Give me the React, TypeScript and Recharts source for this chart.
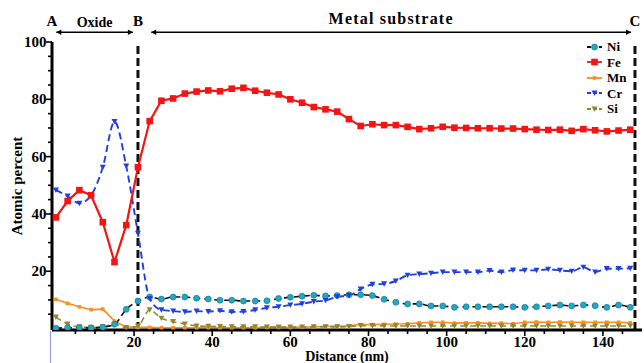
import React from 'react';
import { LineChart, Line, XAxis, YAxis, Legend, ReferenceLine } from 'recharts';

// ---------- data ----------
const distance = [
  0, 3, 6, 9, 12, 15, 18, 21, 24, 27, 30, 33, 36, 39, 42, 45, 48, 51, 54, 57,
  60, 63, 66, 69, 72, 75, 78, 81, 84, 87, 90, 93, 96, 99, 102, 105, 108, 111, 114, 117,
  120, 123, 126, 129, 132, 135, 138, 141, 144, 147,
];
const niValues = [
  0.1, 0.3, 0.3, 0.2, 0.5, 1.5, 6.7, 9.6, 11.0, 10.3,
  11.0, 11.0, 10.6, 10.3, 9.9, 9.9, 9.6, 9.6, 9.7, 10.5,
  10.9, 11.3, 11.6, 11.4, 11.5, 11.8, 11.8, 11.5, 10.2, 9.2,
  8.6, 8.6, 7.9, 7.9, 7.4, 7.6, 7.6, 7.6, 7.6, 7.6,
  7.4, 7.6, 7.9, 8.2, 7.9, 8.2, 8.0, 7.4, 8.2, 7.4,
];
const feValues = [
  38.8, 44.5, 48.3, 46.5, 37.1, 23.2, 36.1, 56.3, 72.4, 79.5,
  80.3, 82.0, 82.7, 83.1, 82.8, 83.7, 84.0, 83.0, 82.3, 81.7,
  80.0, 78.8, 77.3, 76.5, 75.7, 73.1, 70.7, 71.3, 71.0, 71.0,
  70.4, 69.6, 69.9, 70.4, 70.1, 70.0, 69.9, 69.9, 69.8, 69.8,
  69.6, 69.4, 69.3, 69.4, 69.0, 69.6, 69.2, 68.8, 69.1, 69.4,
];
const mnValues = [
  10.2, 8.8, 7.6, 6.6, 6.8, 2.6, 0.6, 0.4, 0.4, 0.3,
  0.3, 0.3, 0.3, 0.3, 0.3, 0.3, 0.3, 0.3, 0.4, 0.4,
  0.4, 0.5, 0.6, 0.8, 0.9, 1.0, 1.4, 1.4, 1.5, 1.6,
  1.7, 2.0, 2.2, 2.2, 1.9, 2.0, 2.0, 1.8, 1.9, 1.7,
  2.2, 2.3, 2.2, 2.3, 2.2, 2.2, 2.2, 2.2, 2.2, 2.0,
];
const crValues = [
  48.3, 46.2, 43.7, 46.5, 56.3, 72.2, 56.7, 33.2, 10.5, 6.5,
  6.1, 5.8, 6.1, 5.9, 6.2, 5.8, 5.9, 6.5, 7.2, 7.6,
  8.2, 8.6, 9.4, 9.8, 11.1, 11.5, 13.8, 15.4, 15.6, 16.6,
  18.6, 19.0, 19.3, 19.7, 19.7, 19.7, 19.7, 20.2, 19.7, 20.4,
  20.3, 20.3, 20.7, 20.3, 20.0, 21.4, 19.7, 20.9, 20.9, 21.0,
];
const siValues = [
  4.0, 1.6, 0.6, 0.4, 0.6, 1.6, 0.3, 0.9, 6.5, 3.6,
  2.4, 1.6, 0.9, 0.8, 0.7, 0.6, 0.6, 0.6, 0.5, 0.5,
  0.5, 0.5, 0.6, 0.6, 0.6, 0.7, 1.0, 1.0, 0.9, 0.9,
  0.9, 0.9, 0.9, 0.9, 0.9, 0.9, 0.9, 0.9, 0.9, 0.9,
  0.9, 0.9, 0.9, 0.9, 0.9, 0.9, 0.9, 0.9, 0.9, 0.9,
];
const xTicks = [5, 10, 15, 20, 25, 30, 35, 40, 45, 50, 55, 60, 65, 70, 75, 80, 85, 90, 95, 100, 105, 110, 115, 120, 125, 130, 135, 140, 145];
const xTickLabels = [20, 40, 60, 80, 100, 120, 140];
const yTicks = [5, 10, 15, 20, 25, 30, 35, 40, 45, 50, 55, 60, 65, 70, 75, 80, 85, 90, 95, 100];
const yTickLabels = [20, 40, 60, 80, 100];
const boundaryB = 21;
const boundaryC = 148.2;
const arrowLevel = 103.4;
const oxideSpan = [0.1, 19.7];
const metalSpan = [24.4, 147.2];

const data = distance.map((d, i) => ({
  d,
  Ni: niValues[i],
  Fe: feValues[i],
  Mn: mnValues[i],
  Cr: crValues[i],
  Si: siValues[i],
}));

// ---------- styles ----------
const FONT = '"Liberation Serif", "Times New Roman", serif';
const C = {
  Ni: '#22a7c6',
  Fe: '#f41414',
  Mn: '#ff8c1e',
  Cr: '#1f3fe6',
  Si: '#8c8a2a',
};

type Marker = 'circle' | 'square' | 'small' | 'tri';
const drawMarker = (kind: Marker, cx: number, cy: number, color: string, key?: string) => {
  if (kind === 'circle')
    return <circle key={key} cx={cx} cy={cy} r={3} fill={color} stroke="#0e6f86" strokeWidth={0.6} />;
  if (kind === 'square')
    return <rect key={key} x={cx - 3.3} y={cy - 3.3} width={6.6} height={6.6} fill={color} />;
  if (kind === 'small')
    return <rect key={key} x={cx - 1.8} y={cy - 1.8} width={3.6} height={3.6} fill={color} />;
  return (
    <path key={key} d={`M${cx - 3},${cy - 2.6} L${cx + 3},${cy - 2.6} L${cx},${cy + 2.8} Z`} fill={color} />
  );
};

const series = [
  { key: 'Ni', line: '#111111', mark: C.Ni, kind: 'circle' as Marker, dash: '6 4', w: 1.6, type: 'monotone' },
  { key: 'Fe', line: C.Fe, mark: C.Fe, kind: 'square' as Marker, dash: undefined, w: 2.2, type: 'linear' },
  { key: 'Mn', line: C.Mn, mark: C.Mn, kind: 'small' as Marker, dash: undefined, w: 1.6, type: 'linear' },
  { key: 'Cr', line: C.Cr, mark: C.Cr, kind: 'tri' as Marker, dash: '7 4', w: 1.9, type: 'monotone' },
  { key: 'Si', line: C.Si, mark: C.Si, kind: 'tri' as Marker, dash: '6 4', w: 1.6, type: 'monotone' },
];
const drawOrder = ['Mn', 'Si', 'Ni', 'Cr', 'Fe'];

const XTick = (props: any) => {
  const { x, y, payload } = props;
  const major = xTickLabels.includes(payload.value);
  return (
    <g>
      <line x1={x} x2={x} y1={y} y2={y + (major ? 6 : 4)} stroke="#000" strokeWidth={1.6} />
      {major && (
        <text x={x} y={y + 17} textAnchor="middle" fontFamily={FONT} fontWeight="bold" fontSize={15} fill="#000">
          {payload.value}
        </text>
      )}
    </g>
  );
};

const YTick = (props: any) => {
  const { x, y, payload } = props;
  const major = yTickLabels.includes(payload.value);
  return (
    <g>
      <line x1={x - (major ? 6 : 4)} x2={x} y1={y} y2={y} stroke="#000" strokeWidth={1.6} />
      {major && (
        <text x={x - 5.5} y={y + 5} textAnchor="end" fontFamily={FONT} fontWeight="bold" fontSize={15} fill="#000">
          {payload.value}
        </text>
      )}
    </g>
  );
};

const XTitle = (props: any) => {
  const vb = props.viewBox;
  return (
    <text x={vb.x + vb.width / 2} y={vb.y + 31} textAnchor="middle" fontFamily={FONT} fontWeight="bold" fontSize={14} fill="#000">
      Distance (nm)
    </text>
  );
};

const YTitle = (props: any) => {
  const vb = props.viewBox;
  const cx = vb.x + 21.5;
  const cy = vb.y + vb.height / 2;
  return (
    <text x={cx} y={cy} transform={`rotate(-90, ${cx}, ${cy})`} textAnchor="middle" fontFamily={FONT} fontWeight="bold" fontSize={15} fill="#000">
      Atomic percent
    </text>
  );
};

const ArrowShape = (p: any) => {
  const { x1, y1, x2, y2 } = p;
  const h = 5;
  return (
    <g>
      <line x1={x1} y1={y1} x2={x2} y2={y2} stroke="#000" strokeWidth={1.6} />
      <path d={`M${x1},${y1} L${x1 + h},${y1 - 2.8} L${x1 + h},${y1 + 2.8} Z`} fill="#000" />
      <path d={`M${x2},${y2} L${x2 - h},${y2 - 2.8} L${x2 - h},${y2 + 2.8} Z`} fill="#000" />
    </g>
  );
};

const LegendContent = () => (
  <div style={{ fontFamily: FONT, fontWeight: 'bold', fontSize: 13, color: '#000' }}>
    {series.map((s) => (
      <div key={s.key} style={{ display: 'flex', alignItems: 'center', height: 15.5 }}>
        <svg width={17} height={10} style={{ display: 'block' }}>
          <line x1={1} x2={16} y1={5} y2={5} stroke={s.line} strokeWidth={1.8} strokeDasharray={s.dash ? '4 2' : undefined} />
          {drawMarker(s.kind, 8.5, 5, s.mark)}
        </svg>
        <span style={{ marginLeft: 4, lineHeight: '15.5px' }}>{s.key}</span>
      </div>
    ))}
  </div>
);

const labelStyle = { fill: '#000', fontFamily: FONT, fontWeight: 'bold', fontSize: 15 };

export default function App() {
  return (
    <div style={{ position: 'fixed', left: 0, top: 0, width: 644, height: 363, background: '#fff' }}>
      <LineChart width={644} height={363} data={data} margin={{ top: 42, right: 2, bottom: 0, left: 0 }}>
        <XAxis
          type="number"
          dataKey="d"
          domain={[-1, 150]}
          allowDataOverflow
          ticks={xTicks}
          interval={0}
          tickSize={0}
          tickMargin={0}
          tickLine={false}
          tick={XTick}
          axisLine={{ stroke: '#000', strokeWidth: 3 }}
          height={33}
          label={XTitle}
        />
        <YAxis
          type="number"
          domain={[-0.5, 100]}
          allowDataOverflow
          ticks={yTicks}
          interval={0}
          tickSize={0}
          tickMargin={0}
          tickLine={false}
          tick={YTick}
          axisLine={{ stroke: '#000', strokeWidth: 3 }}
          width={52}
          label={YTitle}
        />
        <ReferenceLine x={-1} stroke="none" ifOverflow="visible" label={{ value: 'A', position: 'top', offset: 16, ...labelStyle }} />
        <ReferenceLine x={boundaryB} stroke="#111" strokeWidth={3} strokeDasharray="8 4" ifOverflow="visible" label={{ value: 'B', position: 'top', offset: 16, ...labelStyle }} />
        <ReferenceLine x={boundaryC} stroke="#111" strokeWidth={3} strokeDasharray="8 4" ifOverflow="visible" label={{ value: 'C', position: 'top', offset: 16, ...labelStyle }} />
        <ReferenceLine
          segment={[{ x: oxideSpan[0], y: arrowLevel }, { x: oxideSpan[1], y: arrowLevel }]}
          ifOverflow="visible"
          shape={ArrowShape}
          label={{ value: 'Oxide', position: 'top', offset: 5, ...labelStyle, fontSize: 14 }}
        />
        <ReferenceLine
          segment={[{ x: metalSpan[0], y: arrowLevel }, { x: metalSpan[1], y: arrowLevel }]}
          ifOverflow="visible"
          shape={ArrowShape}
          label={{ value: 'Metal substrate', position: 'top', offset: 8, ...labelStyle, fontSize: 16, letterSpacing: 1.2 }}
        />
        {drawOrder.map((k) => {
          const s = series.find((q) => q.key === k)!;
          return (
            <Line
              key={s.key}
              dataKey={s.key}
              type={s.type as any}
              stroke={s.line}
              strokeWidth={s.w}
              strokeDasharray={s.dash}
              isAnimationActive={false}
              activeDot={false}
              dot={(p: any) => drawMarker(s.kind, p.cx, p.cy, s.mark, `${s.key}-${p.index}`)}
            />
          );
        })}
        <Legend
          layout="horizontal"
          verticalAlign="middle"
          align="center"
          content={LegendContent}
          wrapperStyle={{ position: 'absolute', left: 586, top: 39, width: 56 }}
        />
      </LineChart>
      <div style={{ position: 'absolute', left: 50, top: 331, width: 1, height: 32, background: '#8a98ec' }} />
    </div>
  );
}
